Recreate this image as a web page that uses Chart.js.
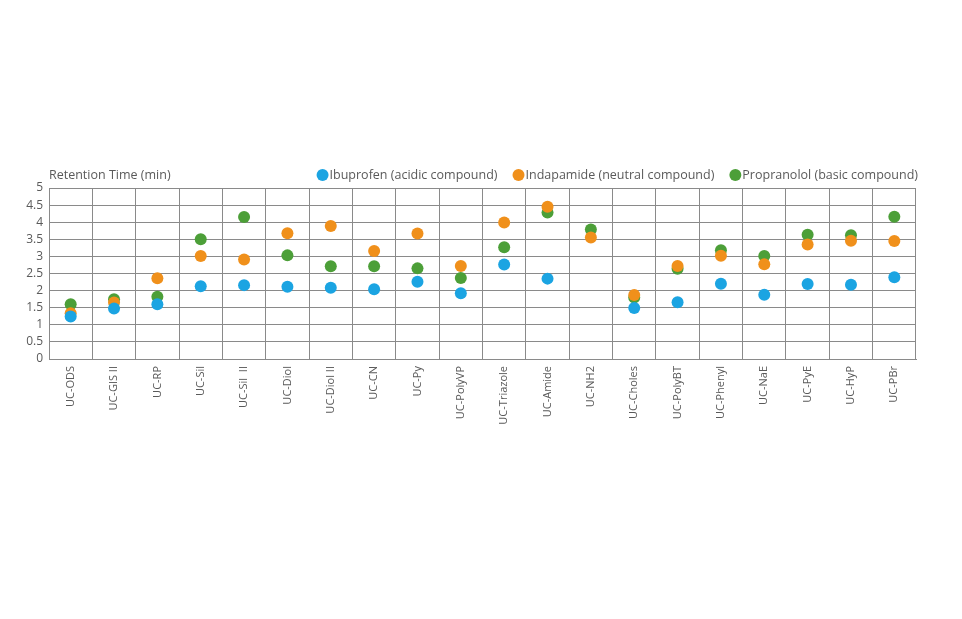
<!DOCTYPE html>
<html>
<head>
<meta charset="utf-8">
<script src="https://cdn.jsdelivr.net/npm/chart.js@4"></script>
<style>
html,body{margin:0;padding:0;background:#fff;}
#wrap{width:962px;height:619px;position:relative;}
</style>
</head>
<body>
<div id="wrap"><canvas id="c" width="962" height="619"></canvas></div>
<script>
const categories = ["UC-ODS","UC-GIS II","UC-RP","UC-Sil","UC-Sil  II","UC-Diol","UC-Diol II","UC-CN","UC-Py","UC-PolyVP","UC-Triazole","UC-Amide","UC-NH2","UC-Choles","UC-PolyBT","UC-Phenyl","UC-NaE","UC-PyE","UC-HyP","UC-PBr"];
const ibuprofen   = [1.24,1.48,1.60,2.13,2.16,2.11,2.08,2.04,2.26,1.92,2.76,2.35,null,1.49,1.66,2.20,1.88,2.19,2.17,2.39];
const indapamide  = [1.34,1.65,2.36,3.01,2.91,3.68,3.89,3.16,3.67,2.72,3.99,4.45,3.55,1.87,2.72,3.02,2.77,3.35,3.46,3.45];
const propranolol = [1.60,1.75,1.82,3.50,4.15,3.03,2.71,2.71,2.65,2.37,3.27,4.28,3.79,1.80,2.64,3.18,3.01,3.63,3.62,4.16];
const yTicks = [0,0.5,1,1.5,2,2.5,3,3.5,4,4.5,5];
const yTitle = "Retention Time (min)";
const seriesNames = ["Ibuprofen (acidic compound)","Indapamide (neutral compound)","Propranolol (basic compound)"];
const colors = ["#1ba4e2","#f0901b","#4c9f38"];

const FONT = "'Open Sans', 'Noto Sans', sans-serif";
const TEXT = "#5a5a5a";
const GRID = "#8a8a8a";

// Draws the y-title and the legend row above the plot
const headerPlugin = {
  id: 'header',
  afterDraw(chart) {
    const ctx = chart.ctx;
    const y = 175;
    ctx.save();
    ctx.font = "12.5px " + FONT;
    ctx.fillStyle = TEXT;
    ctx.textBaseline = 'middle';
    ctx.textAlign = 'left';
    ctx.fillText(yTitle, chart.chartArea.left, y);
    // legend, right-aligned to x = 918
    const r = 6, gapText = 1, gapItem = 15;
    const items = chart.data.datasets.map(d => ({ label: d.label, color: d.backgroundColor, w: ctx.measureText(d.label).width }));
    let x = 918;
    const pos = [];
    for (let i = items.length - 1; i >= 0; i--) {
      const textStart = x - items[i].w;
      const cx = textStart - gapText - r;
      pos[i] = { textStart, cx };
      x = cx - r - gapItem;
    }
    items.forEach((it, i) => {
      ctx.beginPath();
      ctx.fillStyle = it.color;
      ctx.arc(pos[i].cx, y, r, 0, Math.PI * 2);
      ctx.fill();
      ctx.fillStyle = TEXT;
      ctx.fillText(it.label, pos[i].textStart, y + 0.5);
    });
    ctx.restore();
  }
};

function ds(label, data, color) {
  return {
    label, data,
    backgroundColor: color, borderColor: color,
    pointRadius: 6, pointHoverRadius: 6, pointBorderWidth: 0,
    pointStyle: 'circle', showLine: false
  };
}

new Chart(document.getElementById('c'), {
  type: 'line',
  data: {
    labels: categories,
    datasets: [
      ds(seriesNames[0], ibuprofen, colors[0]),
      ds(seriesNames[1], indapamide, colors[1]),
      ds(seriesNames[2], propranolol, colors[2])
    ]
  },
  options: {
    responsive: false,
    animation: false,
    devicePixelRatio: 1,
    layout: { padding: { top: 188, right: 46, left: 0, bottom: 0 } },
    plugins: {
      legend: { display: false },
      tooltip: { enabled: false }
    },
    scales: {
      x: {
        type: 'category', offset: true,
        grid: { offset: true, color: GRID, lineWidth: 1, drawTicks: false },
        border: { color: GRID },
        ticks: { maxRotation: 90, minRotation: 90, autoSkip: false, padding: 7,
                 color: TEXT, font: { family: FONT, size: 11 } },
        afterFit(s) { s.height = 260; }
      },
      y: {
        min: 0, max: 5,
        afterBuildTicks(s) { s.ticks = yTicks.map(v => ({ value: v })); },
        grid: { color: GRID, lineWidth: 1, drawTicks: false },
        border: { color: GRID },
        ticks: { autoSkip: false, padding: 6, color: TEXT, font: { family: FONT, size: 12 },
                 callback: v => String(v) },
        afterFit(s) { s.width = 49; }
      }
    }
  },
  plugins: [headerPlugin]
});
</script>
</body>
</html>
